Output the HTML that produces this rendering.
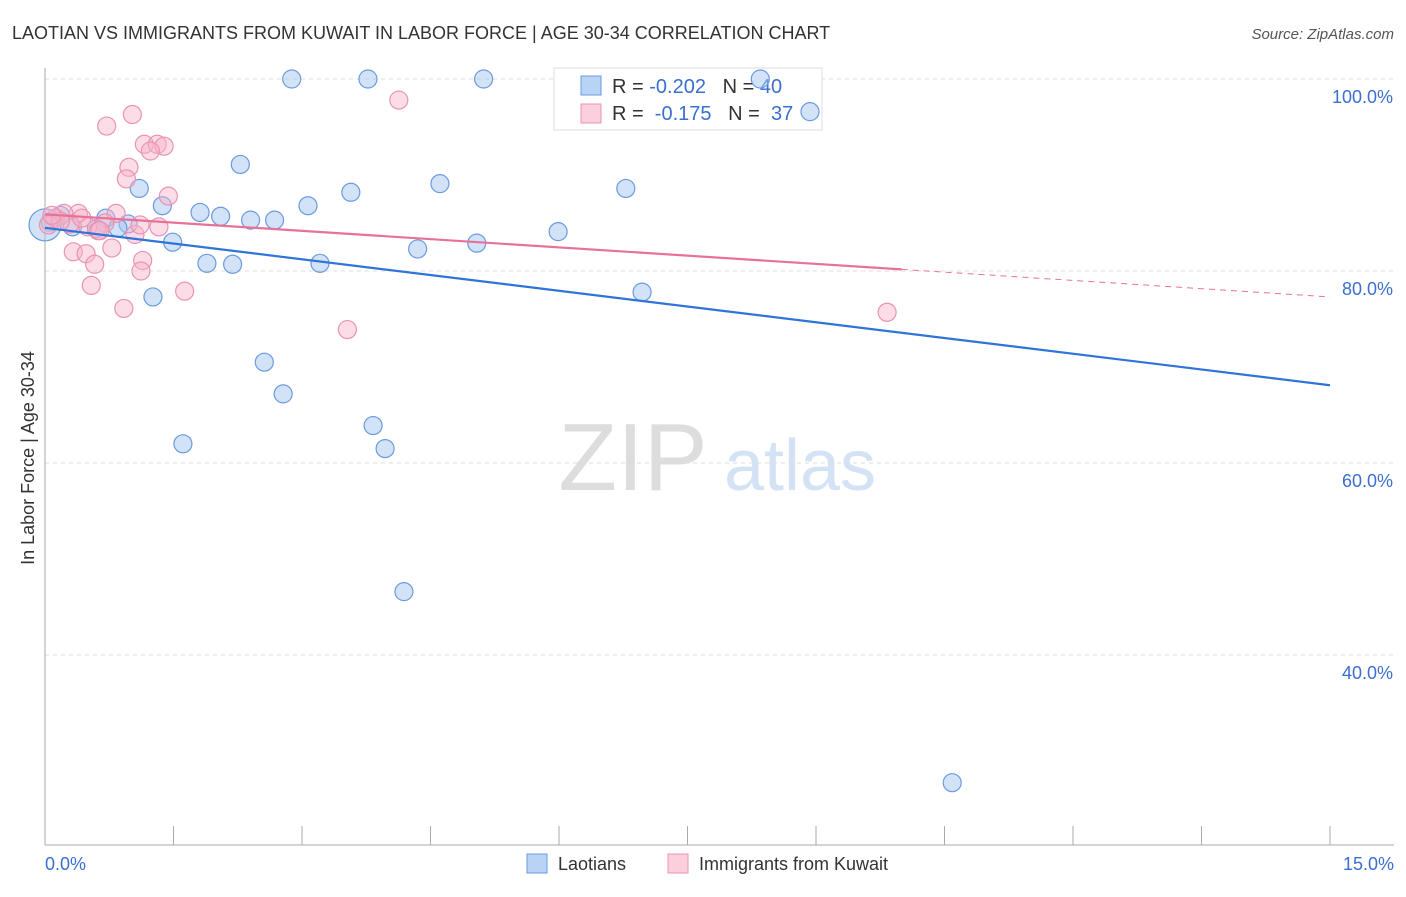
<!DOCTYPE html>
<html><head><meta charset="utf-8"><style>
body{margin:0;background:#fff;font-family:"Liberation Sans",sans-serif}
svg text{font-family:"Liberation Sans",sans-serif}
</style></head><body>
<svg id="c" width="1406" height="892">
<text x="12" y="39" font-size="18" fill="#333">LAOTIAN VS IMMIGRANTS FROM KUWAIT IN LABOR FORCE | AGE 30-34 CORRELATION CHART</text>
<text x="1394" y="39" font-size="15" fill="#555" font-style="italic" text-anchor="end">Source: ZipAtlas.com</text>
<g><text x="633" y="490" font-size="96" fill="#ddd" font-family="Liberation Serif" text-anchor="middle">ZIP</text><text x="800" y="490" font-size="72" fill="#d3e3f5" text-anchor="middle">atlas</text></g>
<g id="grid"></g><g id="axes"></g>
<g>
<rect x="554" y="68" width="268" height="62" fill="#fff" stroke="#ddd"/>
<rect x="581" y="76" width="20" height="19" fill="#b9d3f5" stroke="#6b9ae0"/>
<rect x="581" y="104" width="20" height="19" fill="#fbcfdc" stroke="#eb93b0"/>
<text x="612" y="93" font-size="20" fill="#333" xml:space="preserve">R = <tspan fill="#3a6fd0">-0.202</tspan>   N = <tspan fill="#3a6fd0">40</tspan></text>
<text x="612" y="120" font-size="20" fill="#333" xml:space="preserve">R =  <tspan fill="#3a6fd0">-0.175</tspan>   N =  <tspan fill="#3a6fd0">37</tspan></text>
</g>
<g id="pts"></g><g id="trend"></g>
<text x="34" y="458" font-size="18" fill="#333" text-anchor="middle" transform="rotate(-90 34 458)">In Labor Force | Age 30-34</text>
<text x="45" y="870" font-size="18" fill="#3a6fd0">0.0%</text>
<text x="1394" y="870" font-size="18" fill="#3a6fd0" text-anchor="end">15.0%</text>
<g><rect x="527" y="854" width="20" height="19" fill="#b9d3f5" stroke="#6b9ae0"/><text x="558" y="870" font-size="18" fill="#333">Laotians</text></g>
<g><rect x="668" y="854" width="20" height="19" fill="#fbcfdc" stroke="#eb93b0"/><text x="699" y="870" font-size="18" fill="#333">Immigrants from Kuwait</text></g>
</svg>
<script>
const yTicks=[100,80,60,40];
const yTickLabels=["100.0%","80.0%","60.0%","40.0%"];
const xTicks=[0,1.5,3,4.5,6,7.5,9,10.5,12,13.5,15];
const blueX=[2.88,3.77,5.12,8.35,8.93,2.28,1.10,3.57,4.61,6.78,1.37,1.81,2.05,2.40,2.68,3.07,0.97,0.71,0.85,0.60,0.32,0.18,0.06,1.49,4.35,5.04,5.99,1.89,2.19,3.21,1.26,6.97,2.56,2.78,3.83,3.97,1.61,4.19,10.59,0.0];
const blueY=[100,100,100,100,96.6,91.1,88.6,88.2,89.1,88.6,86.8,86.1,85.7,85.3,85.3,86.8,84.9,85.5,84.5,84.4,84.6,85.8,85.1,83.0,82.3,82.9,84.1,80.8,80.7,80.8,77.3,77.8,70.5,67.2,63.9,61.5,62.0,46.6,26.7,84.8];
const blueR=[9,9,9,9,9,9,9,9,9,9,9,9,9,9,9,9,9,9,9,9,9,9,9,9,9,9,9,9,9,9,9,9,9,9,9,9,9,9,9,16];
const pinkX=[1.02,0.72,4.13,1.16,1.31,1.39,1.23,0.98,0.95,1.44,0.83,0.70,0.39,0.22,0.12,0.04,0.29,0.50,0.62,1.05,1.33,0.33,0.48,0.78,0.58,1.14,1.12,0.54,1.63,0.92,3.53,9.83,0.18,0.43,0.08,0.64,1.11];
const pinkY=[96.3,95.1,97.8,93.2,93.2,93.0,92.5,90.8,89.6,87.8,86.0,85.0,86.0,86.0,85.5,84.8,84.9,84.6,84.2,83.8,84.6,82.0,81.8,82.4,80.7,81.1,80.0,78.5,77.9,76.1,73.9,75.7,85.2,85.5,85.8,84.2,84.8];
const blueTrend=[84.5,68.1];
const pinkTrend=[85.9,77.3];
const pinkSolidEnd=10.0;
const X=v=>45+v/15*1285, Y=v=>79+(100-v)*9.6;
const NS="http://www.w3.org/2000/svg";
function mk(t,a,p){const e=document.createElementNS(NS,t);for(const k in a)e.setAttribute(k,a[k]);document.getElementById(p).appendChild(e);return e;}
yTicks.forEach((t,i)=>{
 const l=mk('line',{x1:45,x2:1394,y1:Y(t),y2:Y(t),stroke:'#ddd','stroke-dasharray':'4 4'},'grid');
 
 
 const tx=mk('text',{x:1393,y:Y(t)+24,'font-size':18,fill:'#3a6fd0','text-anchor':'end'},'grid');
 tx.textContent=yTickLabels[i];
 
 
});
const ya=mk('line',{x1:45,x2:45,y1:68,y2:845,stroke:'#aaa'},'axes');


const xa=mk('line',{x1:45,x2:1394,y1:845,y2:845,stroke:'#aaa'},'axes');


xTicks.forEach(t=>{
 const l=mk('line',{x1:X(t),x2:X(t),y1:826,y2:845,stroke:'#aaa'},'axes');
 
 
});
blueX.forEach((x,i)=>{
 const c=mk('circle',{cx:X(x),cy:Y(blueY[i]),r:blueR[i],fill:'rgba(165,198,240,0.5)',stroke:'#6b9ae0','stroke-width':1.2},'pts');
 
 
});
pinkX.forEach((x,i)=>{
 const c=mk('circle',{cx:X(x),cy:Y(pinkY[i]),r:9,fill:'rgba(248,180,202,0.45)',stroke:'#eb93b0','stroke-width':1.2},'pts');
 
 
});
const bt=mk('line',{x1:X(0),y1:Y(blueTrend[0]),x2:X(15),y2:Y(blueTrend[1]),stroke:'#2f74d8','stroke-width':2.2},'trend');


const py=v=>pinkTrend[0]+(pinkTrend[1]-pinkTrend[0])*v/15;
const pt=mk('line',{x1:X(0),y1:Y(py(0)),x2:X(pinkSolidEnd),y2:Y(py(pinkSolidEnd)),stroke:'#e8719a','stroke-width':2.2},'trend');


const pd=mk('line',{x1:X(pinkSolidEnd),y1:Y(py(pinkSolidEnd)),x2:X(15),y2:Y(py(15)),stroke:'#e8719a','stroke-width':1,'stroke-dasharray':'6 5'},'trend');


</script>
</body></html>
